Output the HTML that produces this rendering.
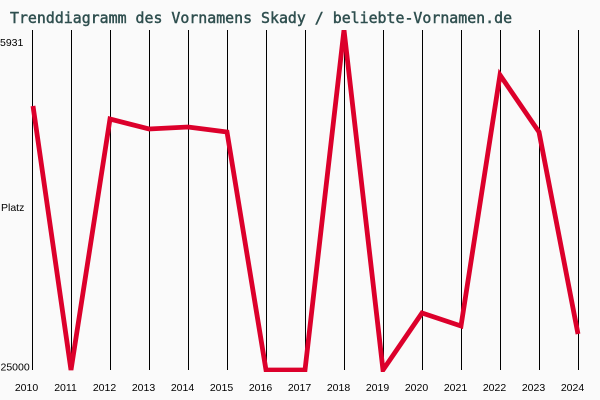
<!DOCTYPE html>
<html><head><meta charset="utf-8"><style>
html,body{margin:0;padding:0;background:#fafafa;}
svg{display:block;}
</style></head><body>
<svg width="600" height="400" viewBox="0 0 600 400" xmlns="http://www.w3.org/2000/svg">
<rect width="600" height="400" fill="#fafafa"/>
<text x="10" y="23" font-family="DejaVu Sans Mono, monospace" font-size="14.9" fill="#2f4f4f" stroke="#2f4f4f" stroke-width="0.45">Trenddiagramm des Vornamens Skady / beliebte-Vornamen.de</text>
<g stroke="#000" stroke-width="1">
<line x1="32.5" y1="30" x2="32.5" y2="370"/>
<line x1="71.5" y1="30" x2="71.5" y2="370"/>
<line x1="110.5" y1="30" x2="110.5" y2="370"/>
<line x1="149.5" y1="30" x2="149.5" y2="370"/>
<line x1="188.5" y1="30" x2="188.5" y2="370"/>
<line x1="227.5" y1="30" x2="227.5" y2="370"/>
<line x1="266.5" y1="30" x2="266.5" y2="370"/>
<line x1="305.5" y1="30" x2="305.5" y2="370"/>
<line x1="344.5" y1="30" x2="344.5" y2="370"/>
<line x1="383.5" y1="30" x2="383.5" y2="370"/>
<line x1="422.5" y1="30" x2="422.5" y2="370"/>
<line x1="461.5" y1="30" x2="461.5" y2="370"/>
<line x1="500.5" y1="30" x2="500.5" y2="370"/>
<line x1="539.5" y1="30" x2="539.5" y2="370"/>
<line x1="578.5" y1="30" x2="578.5" y2="370"/>
</g>
<g font-family="Liberation Sans, sans-serif" font-size="10.5" fill="#000">
<text x="0" y="46">5931</text>
<text x="1" y="211">Platz</text>
<text x="0.5" y="370.5">25000</text>
</g>
<g font-family="Liberation Sans, sans-serif" font-size="10.5" fill="#000" text-anchor="middle">
<text x="26.5" y="391">2010</text>
<text x="65.5" y="391">2011</text>
<text x="104.5" y="391">2012</text>
<text x="143.5" y="391">2013</text>
<text x="182.5" y="391">2014</text>
<text x="221.5" y="391">2015</text>
<text x="260.5" y="391">2016</text>
<text x="299.5" y="391">2017</text>
<text x="338.5" y="391">2018</text>
<text x="377.5" y="391">2019</text>
<text x="416.5" y="391">2020</text>
<text x="455.5" y="391">2021</text>
<text x="494.5" y="391">2022</text>
<text x="533.5" y="391">2023</text>
<text x="572.5" y="391">2024</text>
</g>
<defs><clipPath id="c"><rect x="0" y="30" width="600" height="342"/></clipPath></defs>
<polyline clip-path="url(#c)" fill="none" stroke="#dc002b" stroke-width="4.8" stroke-linejoin="miter" stroke-miterlimit="3"
points="33,106 71,370 110,119 149,129 188,127 227,132 266,370 305,370 344,30 383,370 422,313 461,326 500,75 539,132 578,334"/>
</svg>
</body></html>
